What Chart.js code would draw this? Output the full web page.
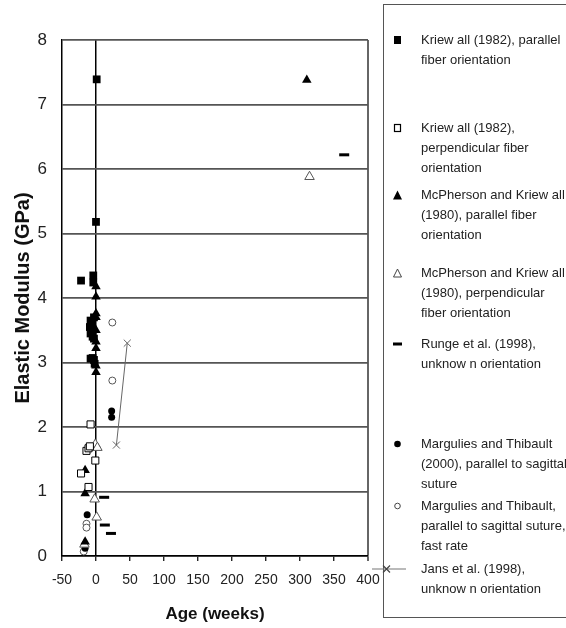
<!DOCTYPE html>
<html>
<head>
<meta charset="utf-8">
<script src="https://cdn.jsdelivr.net/npm/chart.js@4.4.1/dist/chart.umd.min.js"></script>
<style>
body { margin: 0; background: #fff; font-family: "Liberation Sans", Arial, sans-serif; }
#wrap { position: relative; width: 566px; height: 628px; overflow: hidden; }
#chart { position: absolute; left: 0; top: 0; }
#legend { position: absolute; left: 383px; top: 4px; width: 200px; height: 614px; border: 1.5px solid #555; box-sizing: border-box; overflow: visible; }
.item { position: absolute; left: 0; width: 200px; }
.item svg { position: absolute; left: 5px; top: 4px; overflow: visible; }
.item .txt { position: absolute; left: 37px; top: 0; font-size: 13px; line-height: 20px; color: #222; white-space: nowrap; }
</style>
</head>
<body>
<div id="wrap">
  <canvas id="chart" width="566" height="628"></canvas>
  <div id="legend"></div>
</div>
<script>
// data: [age (weeks), elastic modulus (GPa)]
const kriewParallel = [[1, 7.39], [0, 5.18], [-22, 4.27], [-4, 4.35], [-4, 4.24], [-3, 3.7], [-8, 3.65], [-6, 3.6],
  [-9, 3.55], [-7, 3.5], [-8, 3.45], [-5, 3.4], [-3, 3.37], [-8, 3.06], [-5, 3.07], [-3, 3.04], [-2, 2.98]];
const kriewPerp = [[-8, 2.04], [-14, 1.63], [-11, 1.67], [-9, 1.7], [-1, 1.48], [-22, 1.28], [-11, 1.07]];
const mcphParallel = [[310, 7.38], [0, 4.18], [0, 4.02], [0, 3.76], [0, 3.7], [0, 3.5], [0, 3.32], [0, 3.22],
  [0, 2.95], [0, 2.85], [-16, 1.33], [-16, 0.97], [-16, 0.22]];
const mcphPerp = [[314, 5.88], [-1, 1.73], [2, 1.68], [-2, 0.88], [1, 0.6], [-17, 0.18]];
const runge = [[365, 6.22], [12, 0.91], [13, 0.48], [22, 0.35]];
const margulies = [[23, 2.25], [23, 2.15], [-13, 0.64], [-16, 0.12]];
const marguliesFast = [[24, 3.62], [24, 2.72], [-14, 0.5], [-14, 0.44], [-18, 0.07]];
const jans = [[30, 1.72], [46, 3.3]];

const legendLabels = [
  ['Kriew all (1982), parallel', 'fiber orientation'],
  ['Kriew all (1982),', 'perpendicular fiber', 'orientation'],
  ['McPherson and Kriew all', '(1980), parallel fiber', 'orientation'],
  ['McPherson and Kriew all', '(1980), perpendicular', 'fiber orientation'],
  ['Runge et al. (1998),', 'unknow n orientation'],
  ['Margulies and Thibault', '(2000), parallel to sagittal', 'suture'],
  ['Margulies and Thibault,', 'parallel to sagittal suture,', 'fast rate'],
  ['Jans  et al. (1998),', 'unknow n orientation']
];
const legendLineY = [39, 127, 194, 272, 343, 443, 505, 568];

const xTicks = [-50, 0, 50, 100, 150, 200, 250, 300, 350, 400];
const yTicks = [0, 1, 2, 3, 4, 5, 6, 7, 8];

function pts(arr) {
    return arr.map(p => ({ x: p[0], y: p[1] }));
}

const datasets = [
    { label: legendLabels[0].join(' '), data: pts(kriewParallel), pointStyle: 'rect', pointRadius: 5.5,
      backgroundColor: '#000', borderColor: '#000', borderWidth: 0 },
    { label: legendLabels[1].join(' '), data: pts(kriewPerp), pointStyle: 'rect', pointRadius: 5,
      backgroundColor: '#fff', borderColor: '#000', borderWidth: 1 },
    { label: legendLabels[2].join(' '), data: pts(mcphParallel), pointStyle: 'triangle', pointRadius: 5.5,
      backgroundColor: '#000', borderColor: '#000', borderWidth: 0 },
    { label: legendLabels[3].join(' '), data: pts(mcphPerp), pointStyle: 'triangle', pointRadius: 5.5,
      backgroundColor: '#fff', borderColor: '#555', borderWidth: 1 },
    { label: legendLabels[4].join(' '), data: pts(runge), pointStyle: 'line', pointRadius: 5,
      backgroundColor: '#000', borderColor: '#000', borderWidth: 3 },
    { label: legendLabels[5].join(' '), data: pts(margulies), pointStyle: 'circle', pointRadius: 3.5,
      backgroundColor: '#000', borderColor: '#000', borderWidth: 0 },
    { label: legendLabels[6].join(' '), data: pts(marguliesFast), pointStyle: 'circle', pointRadius: 3.5,
      backgroundColor: '#fff', borderColor: '#555', borderWidth: 1 },
    { label: legendLabels[7].join(' '), data: pts(jans), pointStyle: 'crossRot', pointRadius: 5,
      backgroundColor: '#666', borderColor: '#666', borderWidth: 1, showLine: true }
];

new Chart(document.getElementById('chart'), {
    type: 'scatter',
    data: { datasets: datasets },
    options: {
        responsive: false,
        animation: false,
        events: [],
        layout: { padding: { top: 40, right: 198, bottom: 0, left: 0 } },
        plugins: { legend: { display: false }, tooltip: { enabled: false } },
        scales: {
            x: {
                type: 'linear', min: -50, max: 400,
                afterBuildTicks: s => { s.ticks = xTicks.map(v => ({ value: v })); },
                afterFit: s => { s.height = 72; },
                border: { display: true, color: '#000', width: 1.5 },
                grid: {
                    color: c => c.tick && c.tick.value === 0 ? '#000' : (c.tick && c.tick.value === 400 ? '#666' : 'transparent'),
                    lineWidth: c => c.tick && c.tick.value === 400 ? 2 : 1.5,
                    tickColor: '#000', tickLength: 5, tickWidth: 1.2
                },
                ticks: { color: '#222', font: { family: 'Liberation Sans', size: 14 }, padding: 11, maxRotation: 0 },
                title: { display: true, text: 'Age (weeks)', color: '#111',
                    font: { family: 'Liberation Sans', size: 17, weight: 'bold' }, padding: { top: 0, bottom: 3 } }
            },
            y: {
                type: 'linear', min: 0, max: 8,
                afterBuildTicks: s => { s.ticks = yTicks.map(v => ({ value: v })); },
                afterFit: s => { s.width = 62; },
                border: { display: true, color: '#000', width: 1.5 },
                grid: { color: '#555', lineWidth: 1.8, drawTicks: false },
                ticks: { color: '#222', font: { family: 'Liberation Sans', size: 17 }, padding: 15 },
                title: { display: true, text: 'Elastic Modulus (GPa)', color: '#111',
                    font: { family: 'Liberation Sans', size: 20, weight: 'bold' }, padding: { top: 11, bottom: 0 } }
            }
        }
    }
});

// legend in its own box, drawn as html next to the chart
function markerSvg(i) {
    const shapes = [
        '<rect x="5" y="2" width="7" height="8" fill="#000"/>',
        '<rect x="5.5" y="2.5" width="6" height="7" fill="#fff" stroke="#000" stroke-width="1.2"/>',
        '<polygon points="8.5,1.5 13,10.5 4,10.5" fill="#000"/>',
        '<polygon points="8.5,2 12.5,10 4.5,10" fill="#fff" stroke="#444" stroke-width="1"/>',
        '<rect x="4" y="4.5" width="9" height="3" fill="#000"/>',
        '<circle cx="8.5" cy="6" r="3.3" fill="#000"/>',
        '<circle cx="8.5" cy="6" r="2.8" fill="#fff" stroke="#444" stroke-width="1"/>',
        '<line x1="-6" y1="6" x2="28" y2="6" stroke="#777" stroke-width="1.2"/><path d="M5,2.5 L12,9.5 M12,2.5 L5,9.5" stroke="#444" stroke-width="1.2"/>'
    ];
    const left = i === 7 ? -6 : 5;
    return '<svg width="18" height="12" viewBox="0 0 18 12" style="left:' + left + 'px">' + shapes[i] + '</svg>';
}

const legendEl = document.getElementById('legend');
legendLabels.forEach((lines, i) => {
    const item = document.createElement('div');
    item.className = 'item';
    item.style.top = (legendLineY[i] - 10 - 4) + 'px';
    item.innerHTML = markerSvg(i) + '<div class="txt">' + lines.join('<br>') + '</div>';
    legendEl.appendChild(item);
});
</script>
</body>
</html>
